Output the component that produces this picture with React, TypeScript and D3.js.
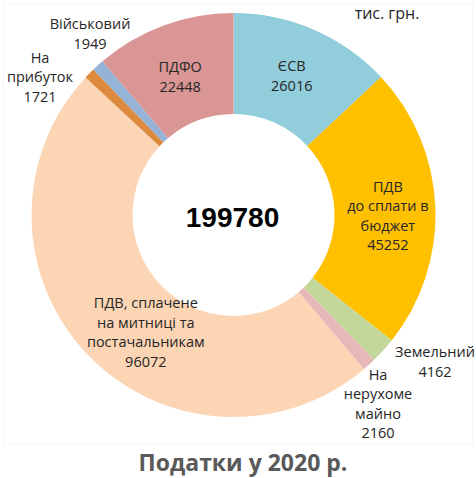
import React from "react";
import * as d3 from "d3";

const categories = ["ЄСВ", "ПДВ до сплати в бюджет", "Земельний", "На нерухоме майно", "ПДВ, сплачене на митниці та постачальникам", "На прибуток", "Військовий", "ПДФО"];
const values = [26016, 45252, 4162, 2160, 96072, 1721, 1949, 22448];
const colors = ["#92CDDC", "#FFC000", "#C4D79B", "#E6B9B8", "#FCD5B5", "#DD8A3F", "#95B3D7", "#D99694"];
const labelLines = [
  ["ЄСВ", "26016"],
  ["ПДВ", "до сплати в", "бюджет", "45252"],
  ["Земельний", "4162"],
  ["На", "нерухоме", "майно", "2160"],
  ["ПДВ, сплачене", "на митниці та", "постачальникам", "96072"],
  ["На", "прибуток", "1721"],
  ["Військовий", "1949"],
  ["ПДФО", "22448"],
];
const totalLabel = "199780";
const unitLabel = "тис. грн.";
const title = "Податки у 2020 р.";

// label layout: inside labels use centroid + offset, outside labels use fixed anchor
const labelPos: ({ dx: number; dy: number } | { x: number; y: number })[] = [
  { dx: -2, dy: 0 },
  { dx: 3, dy: 7 },
  { x: 435, y: 362 },
  { x: 378, y: 404 },
  { dx: 22, dy: 13 },
  { x: 40, y: 77 },
  { x: 90, y: 34 },
  { dx: -1, dy: 4 },
];

export default function App() {
  const W = 476, H = 478;
  const cx = 233.5, cy = 215, R = 202, r = 101;
  const pie = d3.pie<number>().sort(null).value((d) => d)(values);
  const arc = d3.arc<d3.PieArcDatum<number>>().innerRadius(r).outerRadius(R);
  const lh = 19.5;
  const font = "'Open Sans', sans-serif";
  return (
    <svg width={W} height={H} style={{ position: "absolute", left: 0, top: 0 }}>
      <rect x={0} y={0} width={W} height={H} fill="#fff" />
      <rect x={3.5} y={4.5} width={469} height={440} fill="none" stroke="#f5f5f5" />
      <g transform={`translate(${cx},${cy})`}>
        {pie.map((p, i) => (
          <path key={i} d={arc(p) || ""} fill={colors[i]} />
        ))}
      </g>
      {pie.map((p, i) => {
        const lp = labelPos[i] as any;
        let x: number, y: number;
        if ("dx" in lp) {
          const c = arc.centroid(p);
          x = cx + c[0] + lp.dx;
          y = cy + c[1] + lp.dy;
        } else {
          x = lp.x;
          y = lp.y;
        }
        const lines = labelLines[i];
        const y0 = y - ((lines.length - 1) * lh) / 2;
        return (
          <text key={i} x={x} textAnchor="middle" fontFamily={font} fontSize={14.5} fill="#262626">
            {lines.map((t, j) => (
              <tspan key={j} x={x} y={y0 + j * lh} dy="0.35em">{t}</tspan>
            ))}
          </text>
        );
      })}
      <text x={387} y={13} dy="0.35em" textAnchor="middle" fontFamily={font} fontSize={16} fill="#262626">{unitLabel}</text>
      <text x={cx - 1} y={217} dy="0.35em" textAnchor="middle" fontFamily="'Liberation Sans', Arial, sans-serif" fontWeight="bold" fontSize={28} fill="#000">{totalLabel}</text>
      <text x={243} y={463} dy="0.35em" textAnchor="middle" fontFamily={font} fontWeight="bold" fontSize={23} fill="#595959">{title}</text>
    </svg>
  );
}
